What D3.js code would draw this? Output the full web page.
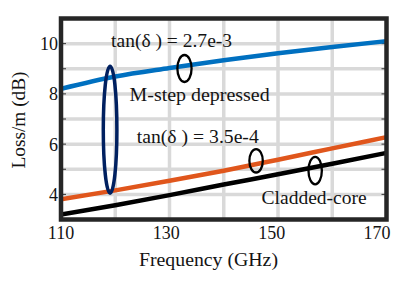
<!DOCTYPE html>
<html><head><meta charset="utf-8">
<script src="https://cdn.jsdelivr.net/npm/d3@7"></script>
<style>
html,body{margin:0;padding:0;background:#fff;}
svg{display:block;}
</style></head>
<body>
<svg id="chart" width="417" height="281"></svg>
<script>
// ---- data ----
const freqs = [110, 120, 130, 140, 150, 160, 170];
const mstep27 = [8.2, 8.69, 9.03, 9.34, 9.62, 9.87, 10.1];    // tan(δ)=2.7e-3, M-step depressed
const mstep35 = [3.8, 4.16, 4.54, 4.94, 5.38, 5.83, 6.28];     // tan(δ)=3.5e-4, M-step depressed
const cladded = [3.2, 3.57, 3.97, 4.39, 4.8, 5.22, 5.65];      // Cladded-core
const xTickLabels = [110, 130, 150, 170];
const yTickLabels = [4, 6, 8, 10];
const xGrid = [120, 130, 140, 150, 160];
const yGrid = [4, 5, 6, 7, 8, 9, 10];
const annoTexts = ["tan(\u03b4 ) = 2.7e-3", "M-step depressed", "tan(\u03b4 ) = 3.5e-4", "Cladded-core"];
const annoFreq = [119.23, 122.65, 123.97, 146.98];
const annoLoss = [9.885, 7.73, 6.05, 3.6];

const FONT = "'Liberation Serif', 'Times New Roman', Tinos, 'DejaVu Serif', 'Noto Serif', serif";
const TXT = "#141414";
const annoWidths = [121, 140, 122, 105];
const svg = d3.select("#chart");
const x = d3.scaleLinear().domain([110, 170]).range([61, 386.5]);
const xLab = d3.scaleLinear().domain([110, 170]).range([61, 377]);
const y = d3.scaleLinear().domain([3, 11]).range([219.5, 18.5]);

// grid
const g = svg.append("g");
g.selectAll(".vg").data(xGrid).join("line")
  .attr("x1", d => x(d)).attr("x2", d => x(d))
  .attr("y1", y(11)).attr("y2", y(3))
  .attr("stroke", "#d9d9d9").attr("stroke-width", 3.5);
g.selectAll(".hg").data(yGrid).join("line")
  .attr("x1", x(110)).attr("x2", x(170))
  .attr("y1", d => y(d)).attr("y2", d => y(d))
  .attr("stroke", "#d9d9d9").attr("stroke-width", 3.5);

// inner ticks
g.selectAll(".tl").data(yGrid).join("line")
  .attr("x1", x(110)).attr("x2", x(110) + 5)
  .attr("y1", d => y(d)).attr("y2", d => y(d))
  .attr("stroke", "#333").attr("stroke-width", 1);
g.selectAll(".tr").data(yGrid).join("line")
  .attr("x1", x(170)).attr("x2", x(170) - 5)
  .attr("y1", d => y(d)).attr("y2", d => y(d))
  .attr("stroke", "#333").attr("stroke-width", 1);

// lines
const line = d3.line().x((d, i) => x(freqs[i])).y(d => y(d)).curve(d3.curveMonotoneX);
svg.append("clipPath").attr("id", "plotclip").append("rect")
  .attr("x", x(110)).attr("y", y(11)).attr("width", x(170) - x(110)).attr("height", y(3) - y(11));
const series = [
  {vals: mstep27, color: "#0070c0"},
  {vals: mstep35, color: "#e0561c"},
  {vals: cladded, color: "#000000"}
];
svg.append("g").attr("clip-path", "url(#plotclip)")
  .selectAll("path").data(series).join("path")
  .attr("d", d => line(d.vals))
  .attr("fill", "none").attr("stroke", d => d.color).attr("stroke-width", 4.5);

// frame
svg.append("rect")
  .attr("x", x(110)).attr("y", y(11))
  .attr("width", x(170) - x(110)).attr("height", y(3) - y(11))
  .attr("fill", "none").attr("stroke", "#262626").attr("stroke-width", 4.5);

function txt(sel) {
  return sel.style("font-family", FONT).style("font-size", "18px").attr("fill", TXT);
}

// tick labels
txt(svg.selectAll(".xl").data(xTickLabels).join("text"))
  .attr("x", d => xLab(d)).attr("y", 239)
  .attr("text-anchor", "middle").text(d => d);
txt(svg.selectAll(".yl").data(yTickLabels).join("text"))
  .attr("x", 58).attr("y", d => y(d) + 6.5)
  .attr("text-anchor", "end").text(d => d);

// axis titles
txt(svg.append("text")).attr("x", 208.5).attr("y", 266)
  .attr("text-anchor", "middle")
  .attr("textLength", 139).attr("lengthAdjust", "spacingAndGlyphs")
  .text("Frequency (GHz)");
txt(svg.append("text"))
  .attr("transform", "translate(25,120) rotate(-90)")
  .attr("text-anchor", "middle")
  .attr("textLength", 97).attr("lengthAdjust", "spacingAndGlyphs")
  .text("Loss/m (dB)");

// ellipses
const ell = [
  {f: 119.05, v: 6.576, rx: 6.8, ry: 63.5, c: "#002060", w: 3.5},
  {f: 132.76, v: 9.01, rx: 7.1, ry: 13.5, c: "#000", w: 2.3},
  {f: 145.96, v: 5.336, rx: 6.7, ry: 11.7, c: "#000", w: 2.3},
  {f: 156.85, v: 4.947, rx: 6.7, ry: 13.8, c: "#000", w: 2.3}
];
svg.selectAll(".el").data(ell).join("ellipse")
  .attr("cx", d => x(d.f)).attr("cy", d => y(d.v))
  .attr("rx", d => d.rx).attr("ry", d => d.ry)
  .attr("fill", "none").attr("stroke", d => d.c).attr("stroke-width", d => d.w);

// annotations
txt(svg.selectAll(".an").data(annoTexts).join("text"))
  .attr("x", (d, i) => x(annoFreq[i])).attr("y", (d, i) => y(annoLoss[i]))
  .attr("textLength", (d, i) => annoWidths[i]).attr("lengthAdjust", "spacingAndGlyphs")
  .text(d => d);
</script>
</body></html>
